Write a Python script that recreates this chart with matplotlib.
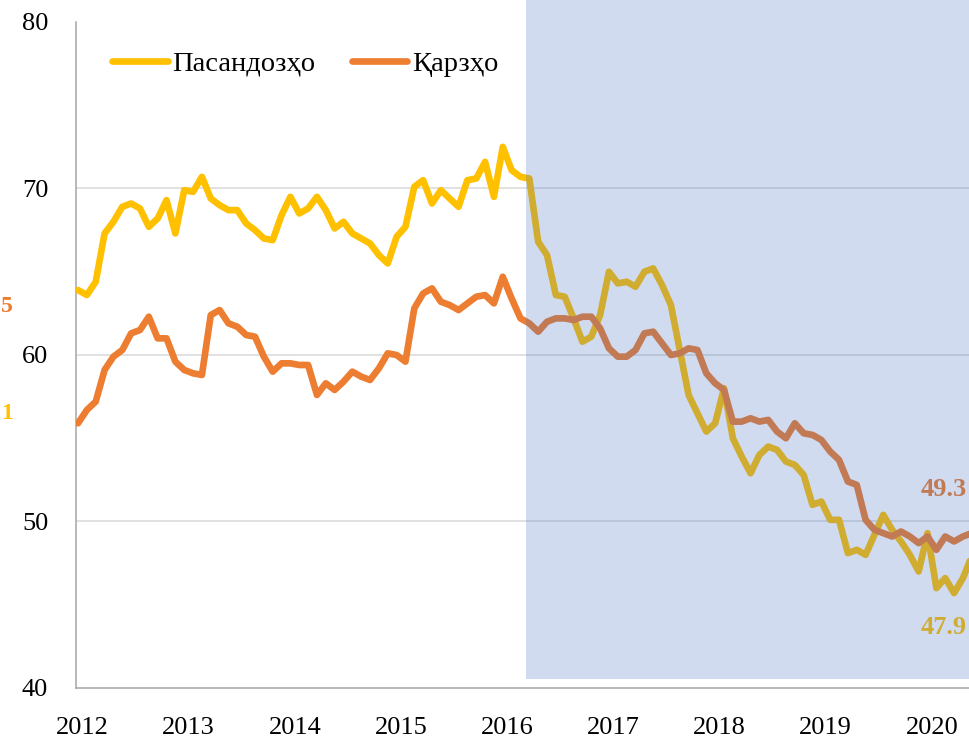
import numpy as np
import matplotlib
matplotlib.use("Agg")
import matplotlib.pyplot as plt
from matplotlib.patches import Rectangle

plt.rcParams['font.family'] = ['Liberation Serif', 'DejaVu Serif']

# Monthly data, Jan 2012 .. Jun 2020
savings = [63.9, 63.6, 64.4, 67.3, 68.0, 68.9, 69.1, 68.8, 67.7, 68.2, 69.3, 67.3,
           69.9, 69.8, 70.7, 69.4, 69.0, 68.7, 68.7, 67.9, 67.5, 67.0, 66.9, 68.4,
           69.5, 68.5, 68.8, 69.5, 68.7, 67.6, 68.0, 67.3, 67.0, 66.7, 66.0, 65.5,
           67.1, 67.7, 70.1, 70.5, 69.1, 69.9, 69.4, 68.9, 70.5, 70.6, 71.6, 69.5,
           72.5, 71.1, 70.7, 70.6, 66.8, 66.0, 63.6, 63.5, 62.2, 60.8, 61.1, 62.4,
           65.0, 64.3, 64.4, 64.1, 65.0, 65.2, 64.2, 63.0, 60.3, 57.6, 56.5, 55.4,
           55.9, 58.0, 55.0, 53.9, 52.9, 54.0, 54.5, 54.3, 53.6, 53.4, 52.8, 51.0,
           51.2, 50.1, 50.1, 48.1, 48.3, 48.0, 49.2, 50.4, 49.5, 48.8, 48.0, 47.0,
           49.3, 46.0, 46.6, 45.7, 46.6, 47.9]
loans = [55.9, 56.7, 57.2, 59.1, 59.9, 60.3, 61.3, 61.5, 62.3, 61.0, 61.0, 59.6,
         59.1, 58.9, 58.8, 62.4, 62.7, 61.9, 61.7, 61.2, 61.1, 59.9, 59.0, 59.5,
         59.5, 59.4, 59.4, 57.6, 58.3, 57.9, 58.4, 59.0, 58.7, 58.5, 59.2, 60.1,
         60.0, 59.6, 62.8, 63.7, 64.0, 63.2, 63.0, 62.7, 63.1, 63.5, 63.6, 63.1,
         64.7, 63.4, 62.2, 61.9, 61.4, 62.0, 62.2, 62.2, 62.1, 62.3, 62.3, 61.6,
         60.4, 59.9, 59.9, 60.3, 61.3, 61.4, 60.7, 60.0, 60.1, 60.4, 60.3, 58.9,
         58.3, 57.9, 56.0, 56.0, 56.2, 56.0, 56.1, 55.4, 55.0, 55.9, 55.3, 55.2,
         54.9, 54.2, 53.7, 52.4, 52.2, 50.1, 49.5, 49.3, 49.1, 49.4, 49.1, 48.7,
         49.1, 48.3, 49.1, 48.8, 49.1, 49.3]
years = ['2012', '2013', '2014', '2015', '2016', '2017', '2018', '2019', '2020']
series_names = ['Пасандозҳо', 'Қарзҳо']
end_labels = ['47.9', '49.3']
left_labels = ['5', '1']

x = np.arange(len(savings))

W, H = 970, 741
fig = plt.figure(figsize=(W / 100, H / 100), dpi=100)
ax = fig.add_axes([76 / W, (H - 688) / H, 1 - 76 / W, (688 - 22) / H])

c_sav = '#FFC000'
c_loan = '#ED7D31'
ax.plot(x, savings, color=c_sav, lw=4.8, solid_joinstyle='round',
        solid_capstyle='round', label=series_names[0], zorder=3)
ax.plot(x, loans, color=c_loan, lw=4.8, solid_joinstyle='round',
        solid_capstyle='round', label=series_names[1], zorder=3)

ax.set_xlim(-0.23, 100.8)
ax.set_ylim(40, 80)
ax.set_yticks([40, 50, 60, 70, 80])
ax.set_xticks([12 * i + 0.5 for i in range(len(years))])
ax.set_xticklabels(years)
ax.tick_params(axis='both', length=0, labelsize=19, colors='black')
ax.tick_params(axis='y', pad=20)
ax.tick_params(axis='x', pad=21)

ax.yaxis.grid(True, color='#D9D9D9', lw=1.1, zorder=0)
ax.set_axisbelow(True)
fig.canvas.draw()
for gl, t in zip(ax.yaxis.get_gridlines(), ax.get_yticks()):
    if t >= 80 or t <= 40:
        gl.set_visible(False)

for s in ['top', 'right']:
    ax.spines[s].set_visible(False)
for s in ['left', 'bottom']:
    ax.spines[s].set_color('#A6A6A6')
    ax.spines[s].set_linewidth(1.1)

# End value labels
ax.text(x[-1] - 3.2, savings[-1] - 4.25, end_labels[0], color=c_sav, fontsize=19,
        fontweight='bold', ha='center', va='center', zorder=4)
ax.text(x[-1] - 3.2, loans[-1] + 2.6, end_labels[1], color=c_loan, fontsize=19,
        fontweight='bold', ha='center', va='center', zorder=4)

# labels at the left edge (partially visible in the original)
fig.text(1 / W, 1 - 307 / H, left_labels[0], color=c_loan, fontsize=17,
         fontweight='bold', ha='left', va='center')
fig.text(1 / W, 1 - 413 / H, left_labels[1], color=c_sav, fontsize=17,
         fontweight='bold', ha='left', va='center')

leg = ax.legend(loc='center left', bbox_to_anchor=(112 / W, 1 - 64 / H),
                bbox_transform=fig.transFigure, ncol=2, frameon=False,
                fontsize=20.5, handlelength=1.95, handletextpad=0.15,
                columnspacing=1.3, borderpad=0, borderaxespad=0)
for lh in leg.get_lines():
    lh.set_linewidth(4.8)
    lh.set_solid_capstyle('round')

# Forecast shading overlay (semi-transparent, above the lines)
fig.patches.append(Rectangle((526 / W, (H - 679) / H), 1 - 526 / W, 679 / H,
                             transform=fig.transFigure, facecolor='#4472C4',
                             alpha=0.25, edgecolor='none', zorder=5))

fig.savefig('out.png', dpi=100)
